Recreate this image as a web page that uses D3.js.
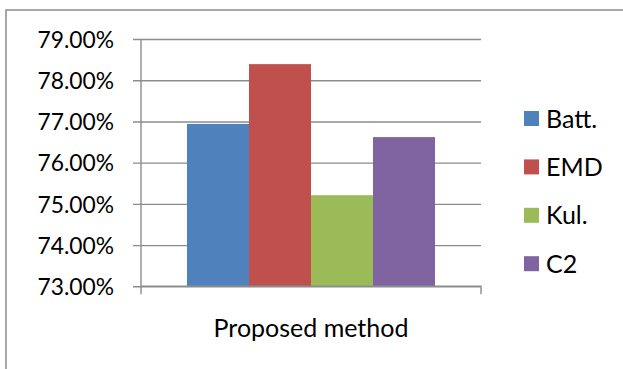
<!DOCTYPE html>
<html>
<head>
<meta charset="utf-8">
<script src="https://cdn.jsdelivr.net/npm/d3@7"></script>
<style>
  html, body { margin: 0; padding: 0; background: #fff; }
  svg { display: block; }
  text { font-family: Lato, "Open Sans", sans-serif; fill: #000; }
</style>
</head>
<body>
<script>
// Accuracy of each distance measure for the proposed method
const categories = ["Proposed method"];
const seriesNames = ["Batt.", "EMD", "Kul.", "C2"];
const seriesValues = [76.94, 78.39, 75.21, 76.62];
const seriesColors = ["#4F81BD", "#C0504D", "#9BBB59", "#8064A2"];
const yTicks = [73, 74, 75, 76, 77, 78, 79];

const W = 623, H = 369;
const svg = d3.select("body").append("svg").attr("width", W).attr("height", H);

// chart frame (runs off the right and bottom edges)
svg.append("rect")
  .attr("x", 6).attr("y", 10)
  .attr("width", W + 20).attr("height", H + 20)
  .attr("fill", "#fff").attr("stroke", "#8a8a8a").attr("stroke-width", 1.5);

const plot = { left: 141, right: 481, top: 39, bottom: 286.3 };

const y = d3.scaleLinear().domain([73, 79]).range([plot.bottom, plot.top]);
const x0 = d3.scaleBand().domain(categories).range([plot.left, plot.right]).paddingInner(0).paddingOuter(0);
const groupPad = 46;
const x1 = d3.scaleBand().domain(seriesNames)
  .range([0, x0.bandwidth() - 2 * groupPad]);

const tickFont = 22.8;
const labelFont = 25;

// horizontal gridlines + ticks on the left
const yAxis = d3.axisLeft(y).tickValues(yTicks)
  .tickFormat(d => d3.format(".2f")(d) + "%")
  .tickSize(plot.left - plot.right).tickPadding(0);
const gy = svg.append("g").attr("transform", `translate(${plot.left},0)`).call(yAxis);
gy.select(".domain").remove();
gy.selectAll(".tick line")
  .attr("x1", -8).attr("x2", plot.right - plot.left)
  .attr("stroke", "#8c8c8c").attr("stroke-width", 1.4);
gy.selectAll(".tick text")
  .attr("x", -27)
  .attr("dy", "0.36em")
  .attr("font-size", tickFont)
  .attr("font-family", "Lato, 'Open Sans', sans-serif")
  .attr("fill", "#000");

// bars
svg.append("g").selectAll("rect")
  .data(seriesValues)
  .join("rect")
  .attr("x", (d, i) => x0(categories[0]) + groupPad + x1(seriesNames[i]))
  .attr("width", x1.bandwidth())
  .attr("y", d => y(d))
  .attr("height", d => y(73) - y(d))
  .attr("fill", (d, i) => seriesColors[i]);

// vertical value axis line
svg.append("line")
  .attr("x1", plot.left).attr("x2", plot.left)
  .attr("y1", plot.top).attr("y2", plot.bottom + 8)
  .attr("stroke", "#8c8c8c").attr("stroke-width", 1.4);

// category axis
const xAxis = d3.axisBottom(x0).tickSize(0).tickPadding(0);
const gx = svg.append("g").attr("transform", `translate(0,${plot.bottom})`).call(xAxis);
gx.select(".domain").attr("stroke", "#8c8c8c").attr("stroke-width", 1.4)
  .attr("d", `M${plot.left},0H${plot.right}V8`);
gx.selectAll(".tick text")
  .attr("y", 50.7)
  .attr("dy", 0)
  .attr("font-size", labelFont)
  .attr("font-family", "Lato, 'Open Sans', sans-serif")
  .attr("fill", "#000");

// legend
const legend = svg.append("g").selectAll("g")
  .data(seriesNames)
  .join("g")
  .attr("transform", (d, i) => `translate(524,${118.5 + i * 48.4})`);
legend.append("rect")
  .attr("x", 0).attr("y", -7.5).attr("width", 15).attr("height", 15)
  .attr("fill", (d, i) => seriesColors[i]);
legend.append("text")
  .attr("x", 22).attr("y", 0).attr("dy", "0.36em")
  .attr("font-size", labelFont)
  .text(d => d);
</script>
</body>
</html>
